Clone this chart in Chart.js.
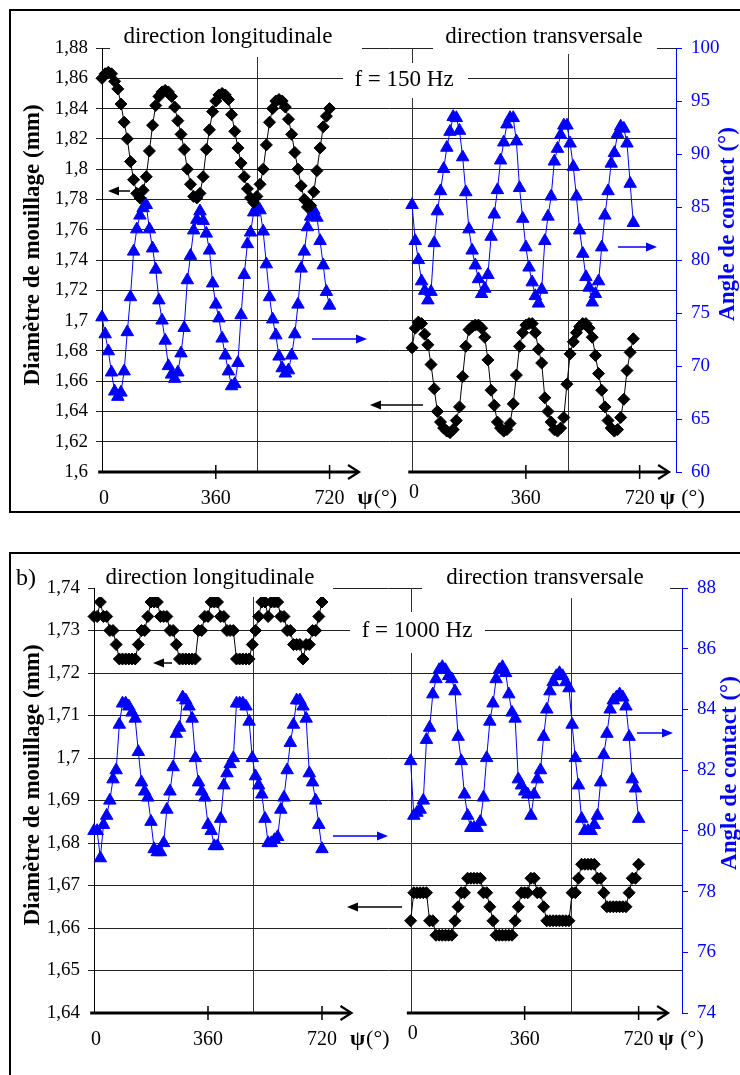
<!DOCTYPE html>
<html>
<head>
<meta charset="utf-8">
<script src="https://cdn.jsdelivr.net/npm/chart.js@4.4.0/dist/chart.umd.min.js"></script>
<style>
  html, body { margin: 0; padding: 0; background: #fff; }
  #wrap { position: relative; width: 740px; height: 1075px; overflow: hidden; }
  #ca { position: absolute; left: 0; top: 0; }
  #cb { position: absolute; left: 0; top: 540px; }
</style>
</head>
<body>
<div id="wrap">
  <canvas id="ca" width="740" height="540"></canvas>
  <canvas id="cb" width="740" height="535"></canvas>
</div>
<script>
// psi angles (deg)
const psi720 = [0,10,20,30,40,50,60,70,80,90,100,110,120,130,140,150,160,170,180,190,
  200,210,220,230,240,250,260,270,280,290,300,310,320,330,340,350,360,370,380,390,
  400,410,420,430,440,450,460,470,480,490,500,510,520,530,540,550,560,570,580,590,
  600,610,620,630,640,650,660,670,680,690,700,710,720];
const psi700 = [0,10,20,30,40,50,60,70,80,90,100,110,120,130,140,150,160,170,180,190,
  200,210,220,230,240,250,260,270,280,290,300,310,320,330,340,350,360,370,380,390,
  400,410,420,430,440,450,460,470,480,490,500,510,520,530,540,550,560,570,580,590,
  600,610,620,630,640,650,660,670,680,690,700];
const xTickLabels = [0, 360, 720];

// a) f = 150 Hz
const diamLongA = [1.860,1.863,1.864,1.863,1.858,1.853,1.843,1.831,1.820,1.805,
  1.793,1.784,1.781,1.786,1.795,1.812,1.829,1.842,1.848,1.851,
  1.852,1.851,1.848,1.841,1.832,1.823,1.813,1.800,1.790,1.782,
  1.781,1.784,1.795,1.813,1.826,1.838,1.845,1.849,1.850,1.849,
  1.846,1.836,1.825,1.814,1.804,1.795,1.787,1.781,1.778,1.782,
  1.790,1.800,1.816,1.831,1.840,1.845,1.846,1.845,1.841,1.833,
  1.823,1.811,1.800,1.789,1.780,1.775,1.776,1.785,1.799,1.814,
  1.828,1.835,1.840];
const angleLongA = [74.6,73.0,71.4,69.4,67.6,67.1,67.5,69.5,73.2,76.5,
  80.8,82.9,84.2,84.9,85.2,82.9,81.1,79.1,76.2,74.3,
  72.4,70.0,69.2,68.8,69.4,71.2,73.6,78.1,80.4,82.8,
  83.8,84.6,83.7,82.5,80.9,77.8,75.8,74.5,72.6,71.0,
  69.5,68.1,68.3,70.3,74.8,78.6,81.5,82.6,84.5,85.0,
  84.7,82.7,79.6,76.5,74.4,72.9,70.9,69.8,69.3,69.6,
  71.0,73.0,75.8,79.2,80.8,83.1,84.1,84.7,84.0,81.8,
  79.5,77.0,75.7];
const diamTransA = [1.682,1.695,1.699,1.698,1.691,1.684,1.671,1.655,1.640,1.633,
  1.629,1.627,1.626,1.628,1.634,1.643,1.663,1.683,1.694,1.696,
  1.697,1.697,1.695,1.689,1.674,1.654,1.644,1.633,1.629,1.627,
  1.628,1.632,1.645,1.664,1.683,1.692,1.697,1.698,1.698,1.692,
  1.681,1.672,1.649,1.640,1.633,1.628,1.627,1.629,1.636,1.658,
  1.678,1.686,1.692,1.696,1.698,1.698,1.695,1.689,1.677,1.665,
  1.654,1.643,1.634,1.629,1.627,1.628,1.636,1.648,1.667,1.679,
  1.688];
const angleTransA = [85.2,81.8,80.0,78.0,77.1,76.2,77.0,81.6,84.6,86.5,
  88.6,90.6,92.1,93.5,93.4,92.2,89.7,86.4,82.9,80.9,
  79.5,78.2,76.8,77.3,78.6,82.2,84.3,86.6,89.4,91.1,
  92.8,93.4,93.4,91.2,86.8,83.9,81.2,79.3,77.9,76.6,
  75.9,77.2,81.8,84.1,86.0,89.3,90.5,91.8,92.7,92.7,
  91.0,88.8,86.0,82.8,80.6,78.4,77.4,76.0,76.8,78.0,
  81.2,84.2,86.5,89.1,90.1,91.9,92.6,92.4,91.0,87.2,
  83.5];

// b) f = 1000 Hz
const diamLongB = [1.7333,1.7333,1.7367,1.7333,1.7333,1.7300,1.7300,1.7267,1.7233,1.7233,
  1.7233,1.7233,1.7233,1.7233,1.7267,1.7300,1.7300,1.7333,1.7367,1.7367,
  1.7367,1.7333,1.7333,1.7333,1.7300,1.7300,1.7267,1.7233,1.7233,1.7233,
  1.7233,1.7233,1.7233,1.7300,1.7300,1.7333,1.7333,1.7367,1.7367,1.7367,
  1.7333,1.7333,1.7300,1.7300,1.7300,1.7233,1.7233,1.7233,1.7233,1.7233,
  1.7267,1.7300,1.7333,1.7367,1.7367,1.7333,1.7367,1.7367,1.7367,1.7333,
  1.7333,1.7300,1.7300,1.7267,1.7267,1.7267,1.7233,1.7267,1.7267,1.7300,
  1.7300,1.7333,1.7367];
const angleLongB = [80.0,80.0,79.1,80.2,80.5,81.0,81.7,82.0,83.5,84.2,
  84.2,84.1,83.9,83.7,82.6,81.6,81.3,81.1,80.3,79.4,
  79.3,79.3,79.6,80.7,81.3,82.1,83.2,83.4,84.4,84.3,
  84.1,83.7,82.4,81.6,81.3,81.1,80.2,80.0,79.5,79.5,
  80.4,81.5,81.9,82.2,82.4,84.2,84.2,84.2,84.1,83.6,
  82.4,81.8,81.5,81.2,80.4,79.6,79.6,79.7,79.8,80.7,
  81.1,82.0,82.9,83.5,84.3,84.3,84.1,83.7,81.9,81.6,
  81.0,80.2,79.4];
const diamTransB = [1.6617,1.6683,1.6683,1.6683,1.6683,1.6683,1.6617,1.6617,1.6583,1.6583,
  1.6583,1.6583,1.6583,1.6583,1.6617,1.6650,1.6683,1.6683,1.6717,1.6717,
  1.6717,1.6717,1.6717,1.6683,1.6683,1.6650,1.6617,1.6583,1.6583,1.6583,
  1.6583,1.6583,1.6583,1.6617,1.6650,1.6683,1.6683,1.6683,1.6717,1.6717,
  1.6683,1.6683,1.6650,1.6617,1.6617,1.6617,1.6617,1.6617,1.6617,1.6617,
  1.6617,1.6683,1.6683,1.6717,1.6750,1.6750,1.6750,1.6750,1.6750,1.6717,
  1.6717,1.6683,1.6650,1.6650,1.6650,1.6650,1.6650,1.6650,1.6650,1.6683,
  1.6717,1.6717,1.6750];
const angleTransB = [82.3,80.5,80.6,80.7,81.0,83.0,83.4,84.5,85.0,85.3,
  85.4,85.3,85.1,85.0,84.6,83.1,82.3,81.2,80.5,80.1,
  80.1,80.1,80.3,81.1,82.4,83.6,84.2,85.0,85.3,85.4,
  85.2,84.5,83.9,83.7,81.7,81.5,81.3,81.2,80.5,81.2,
  81.7,82.0,83.1,84.0,84.6,84.9,85.1,85.2,85.1,84.9,
  84.7,83.5,82.4,81.5,80.4,80.0,80.0,80.0,80.2,80.5,
  81.6,82.5,83.2,84.0,84.3,84.4,84.5,84.4,84.1,83.1,
  81.7,81.4,80.4];

const BLUE = '#0000ff';
const SERIF = "'Liberation Serif', 'Times New Roman', serif";
Chart.defaults.font.family = SERIF;

function pts(psi, vals, off) {
  return psi.map((p, i) => ({ x: p + off, y: vals[i] }));
}

function arrowHead(ctx, x, y, dir, color) {
  ctx.fillStyle = color;
  ctx.beginPath();
  ctx.moveTo(x, y);
  ctx.lineTo(x - dir * 11, y - 4.5);
  ctx.lineTo(x - dir * 11, y + 4.5);
  ctx.closePath();
  ctx.fill();
}

const decor = {
  id: 'decor',
  beforeDatasetsDraw(chart, args, o) {
    const ctx = chart.ctx, xs = chart.scales.x, bot = chart.chartArea.bottom;
    ctx.save();
    ctx.strokeStyle = '#333';
    ctx.lineWidth = 1;
    o.vlines.forEach(v => {
      const px = Math.round(xs.getPixelForValue(v.at)) + 0.5;
      ctx.beginPath(); ctx.moveTo(px, v.from); ctx.lineTo(px, bot); ctx.stroke();
    });
    ctx.restore();
  },
  afterDraw(chart, args, o) {
    const ctx = chart.ctx, xs = chart.scales.x, bot = chart.chartArea.bottom;
    ctx.save();
    // frame
    ctx.strokeStyle = '#000'; ctx.lineWidth = 2;
    ctx.strokeRect(o.frame.x, o.frame.y, o.frame.w, o.frame.h);

    // text boxes
    o.boxes.forEach(b => {
      ctx.fillStyle = '#fff';
      ctx.fillRect(b.x, b.y, b.w, b.h);
      ctx.fillStyle = '#000';
      ctx.font = '23px ' + SERIF;
      ctx.textAlign = 'center'; ctx.textBaseline = 'middle';
      ctx.fillText(b.text, b.tx, b.ty);
    });
    if (o.tag) {
      ctx.font = '24px ' + SERIF;
      ctx.textAlign = 'left';
      ctx.fillText(o.tag.text, o.tag.x, o.tag.y);
    }

    // psi axes with arrows
    [0, o.offset].forEach((off, k) => {
      const x0 = xs.getPixelForValue(off - 12), x1 = xs.getPixelForValue(off + 810);
      ctx.strokeStyle = '#000'; ctx.lineWidth = 3;
      ctx.beginPath(); ctx.moveTo(x0, bot); ctx.lineTo(x1, bot); ctx.stroke();
      ctx.lineWidth = 2.2;
      ctx.beginPath();
      ctx.moveTo(x1 - 10, bot - 7); ctx.lineTo(x1 + 1, bot); ctx.lineTo(x1 - 10, bot + 7);
      ctx.stroke();
      ctx.lineWidth = 1.5;
      ctx.fillStyle = '#000';
      ctx.font = '20px ' + SERIF;
      ctx.textAlign = 'center'; ctx.textBaseline = 'middle';
      xTickLabels.forEach(t => {
        const px = xs.getPixelForValue(off + t);
        if (t > 0) {
          ctx.beginPath(); ctx.moveTo(px, bot - 7); ctx.lineTo(px, bot + 7); ctx.stroke();
        }
        const dy = (t === 0 && k === 1) ? 21 : 27;
        ctx.fillText(String(t), px + (t === 0 ? 2 : 0), bot + dy);
      });
      // psi label
      const pl = xs.getPixelForValue(off + 720) + (k === 0 ? 28 : 20);
      ctx.textAlign = 'left';
      ctx.font = 'bold 22px ' + SERIF;
      ctx.fillText('\u03C8', pl, bot + 26);
      const w = ctx.measureText('\u03C8').width;
      ctx.font = '22px ' + SERIF;
      ctx.fillText(k === 0 ? '(°)' : ' (°)', pl + w + 1, bot + 26);
    });

    // small arrows pointing to the axis of each series
    o.arrows.forEach(a => {
      ctx.strokeStyle = a.c; ctx.lineWidth = 1.5;
      const dir = a.x2 > a.x1 ? 1 : -1;
      ctx.beginPath(); ctx.moveTo(a.x1, a.y); ctx.lineTo(a.x2 - dir * 8, a.y); ctx.stroke();
      arrowHead(ctx, a.x2, a.y, dir, a.c);
    });

    // axis titles (rotated, bottom to top)
    ctx.textAlign = 'center'; ctx.textBaseline = 'middle';
    ctx.font = 'bold 23px ' + SERIF;
    ctx.fillStyle = '#000';
    ctx.translate(o.leftTitle.x, o.leftTitle.y); ctx.rotate(-Math.PI / 2);
    ctx.fillText('Diamètre de mouillage (mm)', 0, 0);
    ctx.setTransform(1, 0, 0, 1, 0, 0);
    ctx.fillStyle = BLUE;
    ctx.translate(o.rightTitle.x, o.rightTitle.y); ctx.rotate(-Math.PI / 2);
    ctx.fillText('Angle de contact (°)', 0, 0);
    ctx.restore();
  }
};

function makeChart(id, cfg) {
  const comma = v => Number(v.toFixed(2)).toString().replace('.', ',');
  const datasets = [
    { data: pts(psi720, cfg.diamLong, 0), yAxisID: 'yL', color: '#000', shape: 'rectRot', r: 6 },
    { data: pts(cfg.psiTrans, cfg.diamTrans, cfg.offset), yAxisID: 'yL', color: '#000', shape: 'rectRot', r: 6 },
    { data: pts(psi720, cfg.angleLong, 0), yAxisID: 'yR', color: BLUE, shape: 'triangle', r: 7.2 },
    { data: pts(cfg.psiTrans, cfg.angleTrans, cfg.offset), yAxisID: 'yR', color: BLUE, shape: 'triangle', r: 7.2 }
  ].map(d => ({
    data: d.data, yAxisID: d.yAxisID,
    borderColor: d.color, backgroundColor: d.color,
    borderWidth: 1, pointStyle: d.shape, pointRadius: d.r,
    pointBorderWidth: 1, pointBackgroundColor: d.color, pointBorderColor: d.color,
    tension: 0, clip: false
  }));

  return new Chart(document.getElementById(id), {
    type: 'line',
    data: { datasets },
    plugins: [decor],
    options: {
      responsive: false, animation: false, events: [],
      layout: { padding: { top: 48, bottom: cfg.padBottom, left: 0, right: 0 } },
      plugins: { legend: { display: false }, tooltip: { enabled: false }, decor: cfg.decor },
      scales: {
        x: { type: 'linear', display: false, min: 0, max: cfg.xMax },
        yL: {
          position: 'left', min: cfg.yL[0], max: cfg.yL[1],
          afterFit: s => { s.width = cfg.leftW; },
          ticks: { stepSize: cfg.yL[2], color: '#000', padding: 8, font: { size: 19 }, callback: comma },
          grid: {
            color: c => (c.tick && Math.abs(c.tick.value - cfg.yL[0]) < 1e-6) ? 'rgba(0,0,0,0)' : '#222',
            lineWidth: 1, tickLength: 6
          },
          border: { display: true, color: '#000', width: 1 }
        },
        yR: {
          position: 'right', min: cfg.yR[0], max: cfg.yR[1],
          afterFit: s => { s.width = cfg.rightW; },
          ticks: { stepSize: cfg.yR[2], color: BLUE, padding: 9, font: { size: 19 } },
          grid: { drawOnChartArea: false, color: BLUE, tickLength: 6 },
          border: { display: true, color: BLUE, width: 1 }
        }
      }
    }
  });
}

makeChart('ca', {
  diamLong: diamLongA, angleLong: angleLongA,
  psiTrans: psi700, diamTrans: diamTransA, angleTrans: angleTransA,
  offset: 981, xMax: 1816, padBottom: 68, leftW: 102, rightW: 64,
  yL: [1.6, 1.88, 0.02], yR: [60, 100, 5],
  decor: {
    offset: 981,
    frame: { x: 10, y: 10, w: 745, h: 502 },
    vlines: [{ at: 490, from: 57 }, { at: 981, from: 48 }, { at: 981 + 494, from: 54 }],
    boxes: [
      { x: 110, y: 24, w: 252, h: 33, text: 'direction longitudinale', tx: 228, ty: 37 },
      { x: 433, y: 24, w: 224, h: 30, text: 'direction transversale', tx: 544, ty: 37 },
      { x: 343, y: 63, w: 125, h: 35, text: 'f = 150 Hz', tx: 404, ty: 80 }
    ],
    arrows: [
      { x1: 130, x2: 108, y: 191, c: '#000' },
      { x1: 312, x2: 367, y: 339, c: BLUE },
      { x1: 423, x2: 370, y: 405, c: '#000' },
      { x1: 618, x2: 657, y: 247, c: BLUE }
    ],
    leftTitle: { x: 33, y: 245 },
    rightTitle: { x: 728, y: 224 }
  }
});

makeChart('cb', {
  diamLong: diamLongB, angleLong: angleLongB,
  psiTrans: psi720, diamTrans: diamTransB, angleTrans: angleTransB,
  offset: 1000, xMax: 1857, padBottom: 62, leftW: 94, rightW: 58,
  yL: [1.64, 1.74, 0.01], yR: [74, 88, 2],
  decor: {
    offset: 1000,
    frame: { x: 10, y: 13, w: 745, h: 600 },
    tag: { text: 'b)', x: 16, y: 39 },
    vlines: [{ at: 502, from: 57 }, { at: 1000, from: 48 }, { at: 1000 + 506, from: 58 }],
    boxes: [
      { x: 95, y: 22, w: 238, h: 35, text: 'direction longitudinale', tx: 210, ty: 38 },
      { x: 422, y: 22, w: 248, h: 36, text: 'direction transversale', tx: 545, ty: 38 },
      { x: 350, y: 72, w: 135, h: 41, text: 'f = 1000 Hz', tx: 417, ty: 91 }
    ],
    arrows: [
      { x1: 172, x2: 153, y: 123, c: '#000' },
      { x1: 333, x2: 388, y: 296, c: BLUE },
      { x1: 402, x2: 347, y: 367, c: '#000' },
      { x1: 637, x2: 673, y: 193, c: BLUE }
    ],
    leftTitle: { x: 33, y: 245 },
    rightTitle: { x: 730, y: 233 }
  }
});
</script>
</body>
</html>
